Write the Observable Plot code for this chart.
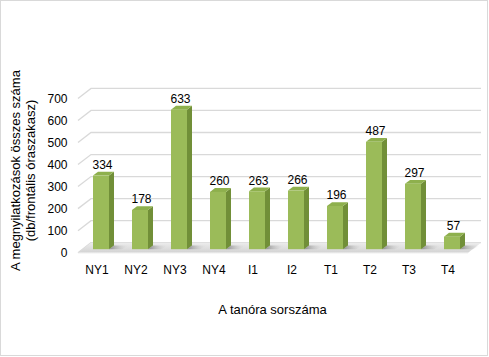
<!DOCTYPE html>
<html>
<head>
<meta charset="utf-8">
<script src="https://cdn.jsdelivr.net/npm/d3@7"></script>
<script src="https://cdn.jsdelivr.net/npm/@observablehq/plot@0.6"></script>
<style>
  html, body { margin: 0; padding: 0; background: #fff; }
</style>
</head>
<body>
<div id="chart"></div>
<script>
const categories = ["NY1", "NY2", "NY3", "NY4", "I1", "I2", "T1", "T2", "T3", "T4"];
const values = [334, 178, 633, 260, 263, 266, 196, 487, 297, 57];
const yTicks = [0, 100, 200, 300, 400, 500, 600, 700];
const yTitle = "A megnyilatkozások összes száma\n(db/frontális óraszakasz)";
const xTitle = "A tanóra sorszáma";

const data = categories.map((c, i) => ({cat: c, val: values[i]}));

// 3D geometry (pixels)
const WALL = [13, -10];     // back wall offset from front plane
const FACE = [4.5, -3.5];   // bar front face offset from front plane
const DEPTH = [5, -3.8];    // bar depth
const INSET = 11.5;

const colFront = "#9bbb59", colTop = "#8eb04d", colSide = "#718f38";

function scene(index, scales, values_, dims) {
  const {x, y} = scales;
  const g = d3.create("svg:g");
  const defs = g.append("defs");
  const sg = defs.append("linearGradient").attr("id", "shadowGrad").attr("x1", 0).attr("x2", 1).attr("y1", 0).attr("y2", 0);
  sg.append("stop").attr("offset", 0).attr("stop-color", "#8a8a8a");
  sg.append("stop").attr("offset", 1).attr("stop-color", "#dcdcdc").attr("stop-opacity", 0);
  const fg = defs.append("linearGradient").attr("id", "floorGrad").attr("x1", 0).attr("x2", 0).attr("y1", 0).attr("y2", 1);
  fg.append("stop").attr("offset", 0).attr("stop-color", "#ececec");
  fg.append("stop").attr("offset", 1).attr("stop-color", "#d3d3d3");

  const x0 = dims.marginLeft + 1;
  const x1 = dims.width - dims.marginRight + 1;
  // outer border
  g.append("rect").attr("x", 0.5).attr("y", 0.5).attr("width", dims.width - 2).attr("height", dims.height - 2)
    .attr("fill", "none").attr("stroke", "#d9d9d9");
  // gridlines
  for (const v of yTicks) {
    const yy = y(v);
    g.append("path")
      .attr("d", `M${x0},${yy}L${x0 + WALL[0]},${yy + WALL[1]}L${x1 + WALL[0]},${yy + WALL[1]}`)
      .attr("fill", "none").attr("stroke", "#d9d9d9").attr("stroke-width", 1.3);
  }
  // floor
  const yf = y(0);
  g.append("path")
    .attr("d", `M${x0},${yf}L${x1},${yf}L${x1 + WALL[0]},${yf + WALL[1]}L${x0 + WALL[0]},${yf + WALL[1]}Z`)
    .attr("fill", "url(#floorGrad)");
  g.append("path").attr("d", `M${x0},${yf + 0.5}L${x1},${yf + 0.5}`).attr("stroke", "#f4f4f4").attr("stroke-width", 1);

  const bandW = (typeof x.bandwidth === "number") ? x.bandwidth : (x(categories[1]) - x(categories[0]));
  const faceW = bandW - 2 * INSET;
  for (const d of data) {
    const xl = x(d.cat) + INSET + FACE[0];
    const xr = xl + faceW;
    const yt = y(d.val) + FACE[1];
    const yb = y(0) + FACE[1];
    // shadow on floor
    g.append("path")
      .attr("d", `M${xr},${yb}L${xr + DEPTH[0]},${yb + DEPTH[1]}L${xr + 20},${yb + DEPTH[1]}L${xr + 13},${yb}Z`)
      .attr("fill", "url(#shadowGrad)");
    // side face
    g.append("path")
      .attr("d", `M${xr},${yt}L${xr + DEPTH[0]},${yt + DEPTH[1]}L${xr + DEPTH[0]},${yb + DEPTH[1]}L${xr},${yb}Z`)
      .attr("fill", colSide);
    // top face
    g.append("path")
      .attr("d", `M${xl},${yt}L${xr},${yt}L${xr + DEPTH[0]},${yt + DEPTH[1]}L${xl + DEPTH[0]},${yt + DEPTH[1]}Z`)
      .attr("fill", colTop);
  }
  return g.node();
}

const chart = Plot.plot({
  width: 489,
  height: 357,
  marginLeft: 77,
  marginRight: 22,
  marginTop: 98.4,
  marginBottom: 104.3,
  style: {fontFamily: "'Liberation Sans', Arial, sans-serif", fontSize: "12px", background: "#fff", color: "#000"},
  x: {domain: categories, padding: 0, round: false, label: null},
  y: {domain: [0, 700], label: null},
  marks: [
    scene,
    Plot.barY(data, {x: "cat", y: "val", fill: colFront, insetLeft: INSET, insetRight: INSET, dx: FACE[0], dy: FACE[1]}),
    Plot.text(data, {x: "cat", y: "val", text: d => String(d.val), dx: FACE[0] + 1, dy: -14.5, lineAnchor: "middle", fill: "#000"}),
    Plot.axisY({ticks: yTicks, tickSize: 0, tickPadding: 10, label: null, tickFormat: d => String(d)}),
    Plot.axisX({tickSize: 0, tickPadding: 12, label: null}),
    Plot.text([yTitle], {frameAnchor: "left", text: d => d, rotate: -90, dx: -55, dy: -5.5, textAnchor: "middle", lineAnchor: "middle", lineHeight: 1.15, fontSize: 13, fill: "#000"}),
    Plot.text([xTitle], {frameAnchor: "bottom", text: d => d, dy: 57, textAnchor: "middle", lineAnchor: "middle", fontSize: 13, fill: "#000"})
  ]
});
document.getElementById("chart").appendChild(chart);
</script>
</body>
</html>
